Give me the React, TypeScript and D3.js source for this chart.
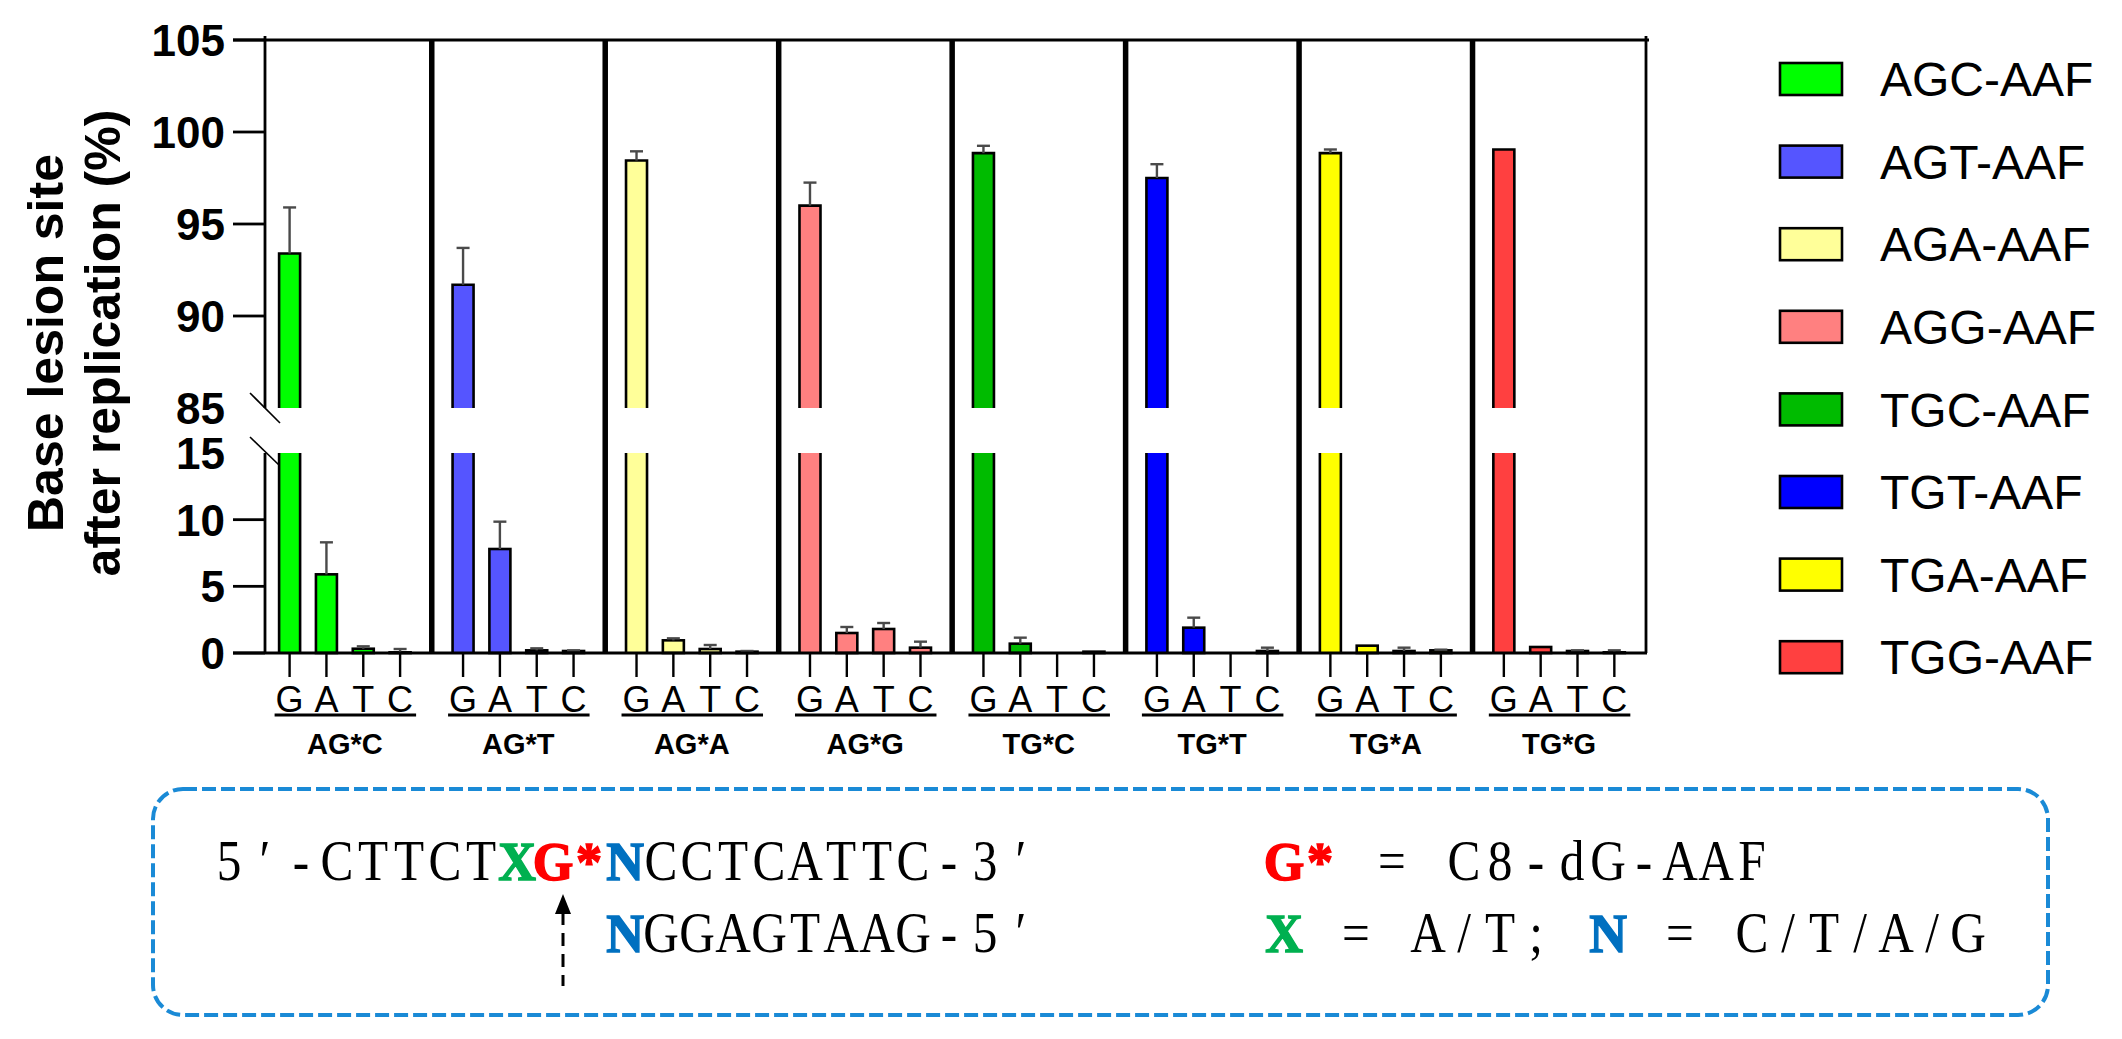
import React, { useEffect } from "react";
import * as d3 from "d3";

// ---------- data ----------
const groupLabels = ["AG*C", "AG*T", "AG*A", "AG*G", "TG*C", "TG*T", "TG*A", "TG*G"];
const legendLabels = ["AGC-AAF", "AGT-AAF", "AGA-AAF", "AGG-AAF", "TGC-AAF", "TGT-AAF", "TGA-AAF", "TGG-AAF"];
const baseLabels = ["G", "A", "T", "C"];

// mean percentage per inserted base, one entry per construct (same order as groupLabels)
const pctG = [93.4, 91.7, 98.45, 96.0, 98.85, 97.5, 98.85, 99.05];
const pctA = [5.9, 7.8, 0.95, 1.5, 0.7, 1.9, 0.55, 0.45];
const pctT = [0.32, 0.2, 0.3, 1.8, 0, 0, 0.15, 0.15];
const pctC = [0.05, 0.15, 0.1, 0.4, 0.1, 0.15, 0.2, 0.05];
// error (SD) per inserted base
const errG = [2.5, 2.0, 0.5, 1.25, 0.4, 0.75, 0.2, 0];
const errA = [2.4, 2.05, 0.15, 0.45, 0.45, 0.75, 0, 0];
const errT = [0.18, 0.15, 0.3, 0.45, 0, 0, 0.25, 0.05];
const errC = [0.25, 0.05, 0.05, 0.45, 0, 0.25, 0.05, 0.15];

const topTicks = [85, 90, 95, 100, 105];
const bottomTicks = [0, 5, 10, 15];

// ---------- styles ----------
const colors = ["#00ff00", "#5555ff", "#ffff99", "#ff8080", "#00bb00", "#0000ff", "#ffff00", "#ff4040"];
const FONT = "Arial, 'Liberation Sans', Helvetica, sans-serif";
const SERIF = "'Liberation Serif', 'DejaVu Serif', serif";
const GREEN = "#00b050";
const RED = "#ff0000";
const BLUE = "#0070c0";

const W = 2122;
const H = 1039;

const line1 = [
  { t: "5′-CTTCT", c: "#000", b: false },
  { t: "X", c: GREEN, b: true },
  { t: "G*", c: RED, b: true },
  { t: "N", c: BLUE, b: true },
  { t: "CCTCATTC-3′", c: "#000", b: false },
];
const line2 = [
  { t: "N", c: BLUE, b: true },
  { t: "GGAGTAAG-5′", c: "#000", b: false },
];
const def1 = [
  { t: "G*", c: RED, b: true },
  { t: " = C8-dG-AAF", c: "#000", b: false },
];
const def2 = [
  { t: "X", c: GREEN, b: true },
  { t: " = A/T; ", c: "#000", b: false },
  { t: "N", c: BLUE, b: true },
  { t: " = C/T/A/G", c: "#000", b: false },
];

function MonoLine({ segs, x0, y, cell, keyp }: any) {
  const chars: any[] = [];
  let i = 0;
  segs.forEach((s: any) => {
    for (const ch of Array.from(s.t as string)) {
      if (ch !== " ") chars.push({ ch, c: s.c, b: s.b, i });
      i++;
    }
  });
  return (
    <g>
      {chars.map((d) => (
        <g key={keyp + d.i} transform={`translate(${x0 + d.i * cell + cell / 2},${y}) scale(${d.b ? 0.95 : 0.88},1)`}>
          <text
            textAnchor="middle"
            fontFamily={SERIF}
            fontSize={d.b ? 55 : 56}
            fontWeight={d.b ? 700 : 400}
            fill={d.c}
            stroke={d.b ? d.c : "none"}
            strokeWidth={d.b ? 1.5 : 0}
          >
            {d.ch}
          </text>
        </g>
      ))}
    </g>
  );
}

export default function App() {
  useEffect(() => {
    document.body.style.margin = "0";
  }, []);

  const xPanel = d3.scaleBand<string>().domain(groupLabels).range([258.3, 1646]).padding(0);
  const xBase = d3.scalePoint<string>().domain(baseLabels).range([31.3, 141.8]);
  const yTop = d3.scaleLinear().domain([85, 105]).range([408, 40]);
  const yBot = d3.scaleLinear().domain([0, 15]).range([653, 453]);

  const means = [pctG, pctA, pctT, pctC];
  const errs = [errG, errA, errT, errC];
  const barW = 21;
  const axisX = 265;
  const zeroY = yBot(0);

  const yOf = (v: number) => (v >= 85 ? yTop(v) : yBot(v));

  const bars: any[] = [];
  groupLabels.forEach((g, gi) => {
    baseLabels.forEach((b, bi) => {
      const v = means[bi][gi];
      const e = errs[bi][gi];
      const cx = (xPanel(g) as number) + (xBase(b) as number);
      bars.push({ key: g + b, gi, cx, v, e, color: colors[gi] });
    });
  });

  return (
    <svg width={W} height={H} style={{ position: "absolute", left: 0, top: 0, background: "#fff" }}>
      <rect x={0} y={0} width={W} height={H} fill="#fff" />

      {/* Y title */}
      <g transform={`translate(63,343) rotate(-90)`}>
        <text textAnchor="middle" fontFamily={FONT} fontWeight={700} fontSize={50} fill="#000">
          Base lesion site
        </text>
      </g>
      <g transform={`translate(120,343) rotate(-90)`}>
        <text textAnchor="middle" fontFamily={FONT} fontWeight={700} fontSize={50} fill="#000">
          after replication (%)
        </text>
      </g>

      {/* bars */}
      {bars.map((d) => {
        const x0 = d.cx - barW / 2;
        const x1 = d.cx + barW / 2;
        if (d.v >= 85) {
          const top = yTop(d.v);
          return (
            <g key={d.key}>
              <rect x={x0} y={top} width={barW} height={yTop(85) - top} fill={d.color} />
              <rect x={x0} y={yBot(15)} width={barW} height={zeroY - yBot(15)} fill={d.color} />
              <path
                d={`M${x0},${yTop(85)}V${top}H${x1}V${yTop(85)}M${x0},${zeroY}V${yBot(15)}M${x1},${yBot(15)}V${zeroY}`}
                fill="none"
                stroke="#000"
                strokeWidth={2.6}
              />
            </g>
          );
        }
        if (d.v <= 0) return null;
        const top = yBot(d.v);
        return (
          <rect
            key={d.key}
            x={x0}
            y={top}
            width={barW}
            height={Math.max(zeroY - top, 0.5)}
            fill={d.color}
            stroke="#000"
            strokeWidth={2.6}
          />
        );
      })}

      {/* error bars */}
      {bars
        .filter((d) => d.e > 0)
        .map((d) => {
          const y0 = yOf(d.v);
          const y1 = yOf(d.v + d.e);
          return (
            <g key={"e" + d.key} stroke="#4a4a4a" strokeWidth={2.4}>
              <line x1={d.cx} x2={d.cx} y1={y0} y2={y1} />
              <line x1={d.cx - 6.5} x2={d.cx + 6.5} y1={y1} y2={y1} />
            </g>
          );
        })}

      {/* dividers */}
      {groupLabels.slice(1).map((g) => (
        <line key={"div" + g} x1={xPanel(g)} x2={xPanel(g)} y1={40} y2={zeroY} stroke="#000" strokeWidth={5.5} />
      ))}

      {/* frame / axes */}
      <line x1={233} x2={1649} y1={yTop(105)} y2={yTop(105)} stroke="#000" strokeWidth={2.8} />
      <line x1={1646} x2={1646} y1={36} y2={zeroY} stroke="#000" strokeWidth={2.8} />
      <line x1={233} x2={1647} y1={zeroY} y2={zeroY} stroke="#000" strokeWidth={2.8} />
      <line x1={axisX} x2={axisX} y1={36} y2={yTop(85)} stroke="#000" strokeWidth={2.8} />
      <line x1={axisX} x2={axisX} y1={yBot(15)} y2={zeroY} stroke="#000" strokeWidth={2.8} />
      {/* break marks */}
      <line x1={axisX - 15} x2={axisX + 15} y1={yTop(85) - 15} y2={yTop(85) + 15} stroke="#000" strokeWidth={1.6} />
      <line x1={axisX - 15} x2={axisX + 14} y1={yBot(15) - 16} y2={yBot(15) + 12} stroke="#000" strokeWidth={1.6} />

      {/* y ticks */}
      {topTicks.map((t) => (
        <g key={"tt" + t}>
          {t !== 85 && <line x1={233} x2={axisX} y1={yTop(t)} y2={yTop(t)} stroke="#000" strokeWidth={2.8} />}
          <text x={225} y={yTop(t)} dy="0.36em" textAnchor="end" fontFamily={FONT} fontWeight={700} fontSize={44}>
            {t}
          </text>
        </g>
      ))}
      {bottomTicks.map((t) => (
        <g key={"bt" + t}>
          {t !== 15 && <line x1={233} x2={axisX} y1={yBot(t)} y2={yBot(t)} stroke="#000" strokeWidth={2.8} />}
          <text x={225} y={yBot(t)} dy="0.36em" textAnchor="end" fontFamily={FONT} fontWeight={700} fontSize={44}>
            {t}
          </text>
        </g>
      ))}

      {/* x ticks and labels */}
      {bars.map((d) => (
        <line key={"xt" + d.key} x1={d.cx} x2={d.cx} y1={zeroY} y2={zeroY + 24} stroke="#000" strokeWidth={2.4} />
      ))}
      {groupLabels.map((g) => {
        const p = xPanel(g) as number;
        const first = p + (xBase("G") as number);
        const last = p + (xBase("C") as number);
        return (
          <g key={"lab" + g}>
            {baseLabels.map((b) => (
              <text
                key={b}
                x={p + (xBase(b) as number)}
                y={712}
                textAnchor="middle"
                fontFamily={FONT}
                fontSize={36}
                fill="#000"
              >
                {b}
              </text>
            ))}
            <line x1={first - 15} x2={last + 16} y1={715} y2={715} stroke="#000" strokeWidth={2.8} />
            <text x={(first + last) / 2} y={754} textAnchor="middle" fontFamily={FONT} fontWeight={700} fontSize={29}>
              {g}
            </text>
          </g>
        );
      })}

      {/* legend */}
      {legendLabels.map((l, i) => {
        const cy = 79 + i * 82.6;
        return (
          <g key={"lg" + l}>
            <rect x={1780} y={cy - 16} width={62} height={32} fill={colors[i]} stroke="#000" strokeWidth={2.6} />
            <text x={1880} y={cy} dy="0.36em" fontFamily={FONT} fontSize={48} fill="#000">
              {l}
            </text>
          </g>
        );
      })}

      {/* sequence box */}
      <rect
        x={153}
        y={789}
        width={1895}
        height={226}
        rx={30}
        ry={30}
        fill="none"
        stroke="#1a8ad6"
        strokeWidth={4}
        strokeDasharray="14 5"
      />
      <MonoLine segs={line1} x0={211} y={880} cell={36} keyp="l1" />
      <MonoLine segs={line2} x0={211 + 11 * 36} y={952} cell={36} keyp="l2" />
      <MonoLine segs={def1} x0={1266} y={880} cell={36} keyp="d1" />
      <MonoLine segs={def2} x0={1266} y={952} cell={36} keyp="d2" />
      {/* arrow */}
      <line x1={563} x2={563} y1={912} y2={986} stroke="#000" strokeWidth={3} strokeDasharray="13 8" />
      <path d="M563,894L555,914L571,914Z" fill="#000" />
    </svg>
  );
}
